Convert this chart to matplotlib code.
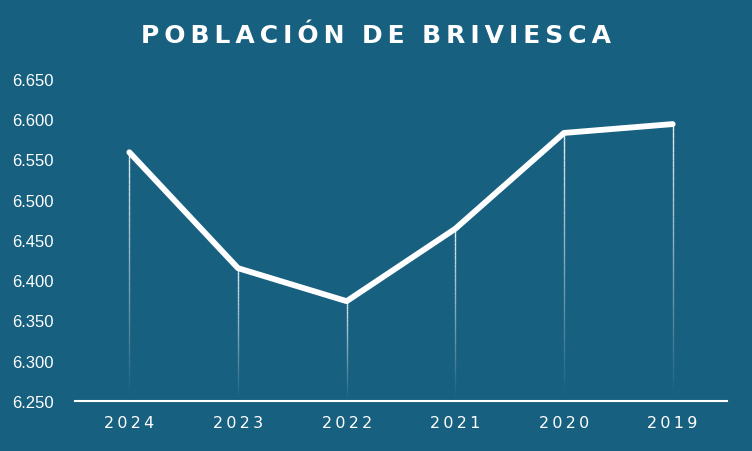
import matplotlib
matplotlib.use("Agg")
import matplotlib.pyplot as plt
import numpy as np
from matplotlib.collections import LineCollection
from matplotlib.ticker import FuncFormatter

years = ["2024", "2023", "2022", "2021", "2020", "2019"]
poblacion = [6559, 6415, 6374, 6464, 6583, 6594]
yticks = [6250, 6300, 6350, 6400, 6450, 6500, 6550, 6600, 6650]

bg = "#17607f"
fig = plt.figure(figsize=(7.52, 4.52), dpi=100, facecolor=bg)
ax = fig.add_axes([75/752, 50/452, 652/752, 322/452], facecolor=bg)
x = np.arange(len(years))
ymin = 6250
for xi, v in zip(x, poblacion):
    ys = np.linspace(ymin, v, 40)
    segs = [[(xi, ys[i]), (xi, ys[i+1])] for i in range(len(ys)-1)]
    alphas = np.linspace(0.0, 0.9, len(segs))
    cols = [(1, 1, 1, a) for a in alphas]
    ax.add_collection(LineCollection(segs, colors=cols, linewidths=1))
ax.plot(x, poblacion, color="white", lw=4.2, solid_capstyle="round", zorder=3)
ax.set_xlim(-0.5, 5.5)
ax.set_ylim(6250, 6650)
ax.set_xticks(x, ["\u2009".join(y) for y in years])
ax.set_yticks(yticks)
ax.yaxis.set_major_formatter(FuncFormatter(lambda v, p: f"{v/1000:.3f}"))
for s in ["top", "right", "left"]:
    ax.spines[s].set_visible(False)
ax.spines["bottom"].set_color("white")
ax.spines["bottom"].set_linewidth(1.5)
ax.tick_params(axis="both", length=0, colors="white", labelsize=11.5)
ax.tick_params(axis="x", pad=10)
ax.tick_params(axis="y", pad=45)
for lab in ax.get_xticklabels():
    lab.set_fontfamily("DejaVu Sans")
for lab in ax.get_yticklabels():
    lab.set_horizontalalignment("left")
    lab.set_fontfamily("Liberation Sans")
    lab.set_fontsize(12)
fig.text(0.5, 1 - 36/452, "\u2009".join("POBLACIÓN DE BRIVIESCA").replace("\u2009 \u2009", "  "),
         ha="center", va="center",
         color="white", fontsize=18, fontweight="bold", family="DejaVu Sans")
fig.savefig("out.png", dpi=100, facecolor=bg)
